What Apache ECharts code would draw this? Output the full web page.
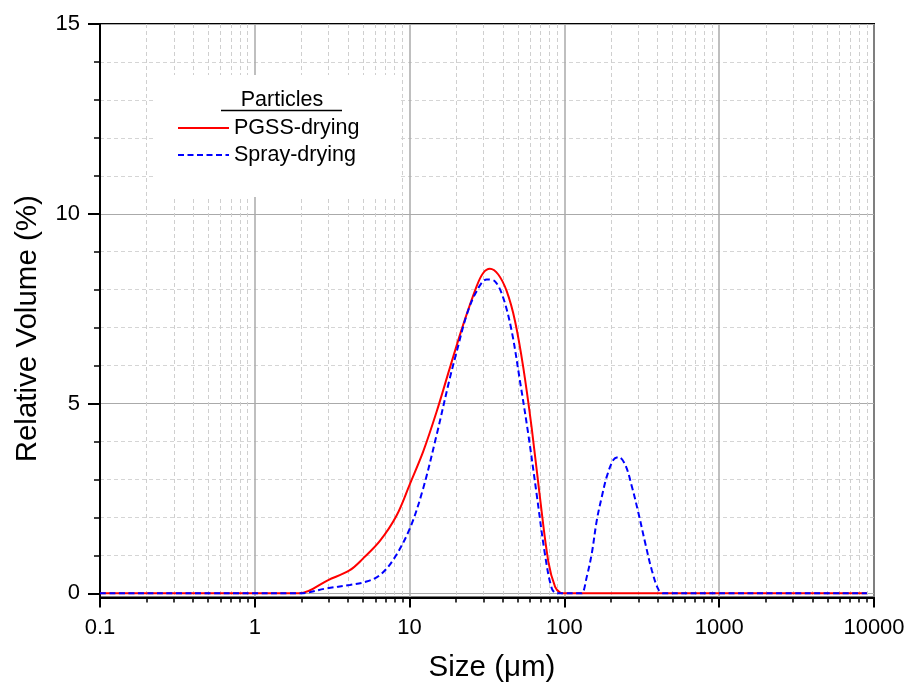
<!DOCTYPE html>
<html>
<head>
<meta charset="utf-8">
<script src="https://cdn.jsdelivr.net/npm/echarts@6/dist/echarts.min.js"></script>
<style>html,body{margin:0;padding:0;background:#fff;}#c{width:913px;height:689px;}</style>
</head>
<body>
<div id="c"></div>
<script>
// ---- data ----
var SERIES_NAMES = ['PGSS-drying', 'Spray-drying'];
var PGSS_X = [0.1, 1, 1.7, 1.95, 2.98, 4.11, 5.01, 6.43, 8.24, 10.04, 12.25, 14.96, 18.2, 22.2, 27.1, 29.9, 33.0, 37.4, 42.4, 48.0, 54.3, 61.5, 69.6, 78.8, 87.1, 93.8, 100, 200, 1000, 9000];
var PGSS_Y = [0, 0, 0, 0, 0.35, 0.61, 0.92, 1.38, 2.05, 2.88, 3.74, 4.79, 5.94, 7.08, 8.09, 8.44, 8.55, 8.40, 7.96, 7.17, 5.94, 4.35, 2.51, 0.83, 0.17, 0.02, 0, 0, 0, 0];
var SPRAY_X = [0.1, 1, 1.7, 1.95, 2.91, 4.11, 5.27, 6.43, 7.83, 10.04, 12.25, 14.96, 18.2, 20.1, 23.4, 27.1, 31.5, 35.6, 40.3, 45.7, 51.7, 58.5, 66.3, 75.0, 82.9, 89.3, 100, 125, 129.6, 139.6, 150.4, 162, 174.6, 188, 207.5, 223.5, 247, 273, 301, 333, 367, 406, 437, 1000, 9000];
var SPRAY_Y = [0, 0, 0, 0, 0.13, 0.22, 0.31, 0.48, 0.88, 1.71, 2.77, 4.18, 5.67, 6.35, 7.34, 7.96, 8.27, 8.22, 7.78, 6.90, 5.58, 4.18, 2.59, 1.01, 0.13, 0, 0, 0, 0, 0.44, 1.06, 1.93, 2.55, 3.08, 3.52, 3.59, 3.39, 2.81, 2.11, 1.32, 0.61, 0.09, 0, 0, 0];
var X_TICK_LABELS = ['0.1', '1', '10', '100', '1000', '10000'];
var X_MINOR = [0.2,0.3,0.4,0.5,0.6,0.7,0.8,0.9, 2,3,4,5,6,7,8,9, 20,30,40,50,60,70,80,90, 200,300,400,500,600,700,800,900, 2000,3000,4000,5000,6000,7000,8000,9000];
var Y_MAJOR = [0, 5, 10, 15];
var Y_MINOR = [1, 2, 3, 4, 6, 7, 8, 9, 11, 12, 13, 14];
var LEGEND_TITLE = 'Particles';
var X_NAME = 'Size (\u03bcm)';
var Y_NAME = 'Relative Volume (%)';

function zip(xs, ys) { return xs.map(function (x, i) { return [x, ys[i]]; }); }

var FONT = '"Liberation Sans", Arial, sans-serif';
var chart = echarts.init(document.getElementById('c'), null, { renderer: 'canvas' });

var option = {
  animation: false,
  backgroundColor: '#fff',
  grid: { left: 100, right: 39, top: 24, bottom: 91.5, show: true, borderColor: '#000', borderWidth: 2, backgroundColor: 'transparent', outerBoundsMode: 'none' },
  legend: {
    data: SERIES_NAMES,
    orient: 'vertical',
    left: 155, top: 75,
    padding: [42, 41, 31, 22],
    backgroundColor: '#fff',
    itemWidth: 51, itemHeight: 14, itemGap: 5,
    itemStyle: { opacity: 0 },
    textStyle: { fontFamily: FONT, fontSize: 21.5, color: '#000' }
  },
  graphic: [
    { type: 'text', z: 100, style: { text: LEGEND_TITLE, x: 282, y: 100, align: 'center', verticalAlign: 'middle', font: '21.5px ' + FONT, fill: '#000' } },
    { type: 'line', z: 100, shape: { x1: 221, y1: 110.5, x2: 342, y2: 110.5 }, style: { stroke: '#000', lineWidth: 1.5 } }
  ],
  xAxis: [
    {
      type: 'log', logBase: 10, min: 0.1, max: 10000, position: 'bottom',
      name: X_NAME, nameLocation: 'middle', nameGap: 55,
      nameTextStyle: { fontFamily: FONT, fontSize: 29.5, color: '#000', padding: [0, 0, 0, 10] },
      axisLine: { show: true, onZero: false, lineStyle: { color: '#000', width: 2 } },
      axisTick: { show: true, inside: false, length: 10, lineStyle: { color: '#000', width: 2 } },
      axisLabel: { show: true, margin: 19, fontFamily: FONT, fontSize: 22, color: '#000',
        formatter: function (v, i) { return X_TICK_LABELS[i] !== undefined ? X_TICK_LABELS[i] : String(v); } },
      splitLine: { show: true, lineStyle: { color: '#aaa', width: 1.5 } },
      minorTick: { show: false }
    },
    {
      type: 'log', logBase: 10, min: 0.1, max: 10000, position: 'bottom',
      axisLine: { show: false, onZero: false },
      axisTick: { show: true, inside: false, length: 5, customValues: X_MINOR, lineStyle: { color: '#000', width: 1.5 } },
      axisLabel: { show: false },
      splitLine: { show: true, lineStyle: { color: '#cfcfcf', width: 1, type: [4, 3] } }
    }
  ],
  yAxis: [
    {
      type: 'value', min: -0.11, max: 15, position: 'left',
      name: Y_NAME, nameLocation: 'middle', nameGap: 57,
      nameTextStyle: { fontFamily: FONT, fontSize: 29.5, color: '#000', padding: [0, 36, 0, 0] },
      axisLine: { show: true, onZero: false, lineStyle: { color: '#000', width: 2 } },
      axisTick: { show: true, inside: false, length: 12, customValues: Y_MAJOR, lineStyle: { color: '#000', width: 2 } },
      axisLabel: { show: true, margin: 20, customValues: Y_MAJOR, fontFamily: FONT, fontSize: 22, color: '#000' },
      splitLine: { show: true, lineStyle: { color: '#aaa', width: 1 } }
    },
    {
      type: 'value', min: -0.11, max: 15, position: 'left',
      axisLine: { show: false, onZero: false },
      axisTick: { show: true, inside: false, length: 6, customValues: Y_MINOR, lineStyle: { color: '#000', width: 1.5 } },
      axisLabel: { show: false },
      splitLine: { show: true, lineStyle: { color: '#d5d5d5', width: 1, type: [4, 3] } }
    }
  ],
  series: [
    { name: SERIES_NAMES[0], type: 'line', xAxisIndex: 0, yAxisIndex: 0, symbol: 'none', smooth: 0.35, z: 3,
      data: zip(PGSS_X, PGSS_Y), itemStyle: { color: '#ff0000' }, lineStyle: { color: '#ff0000', width: 2 } },
    { name: SERIES_NAMES[1], type: 'line', xAxisIndex: 0, yAxisIndex: 0, symbol: 'none', smooth: 0.35, z: 4,
      data: zip(SPRAY_X, SPRAY_Y), itemStyle: { color: '#0000ff' }, lineStyle: { color: '#0000ff', width: 2, type: [6, 3.5] } }
  ]
};
chart.setOption(option);
</script>
</body>
</html>
